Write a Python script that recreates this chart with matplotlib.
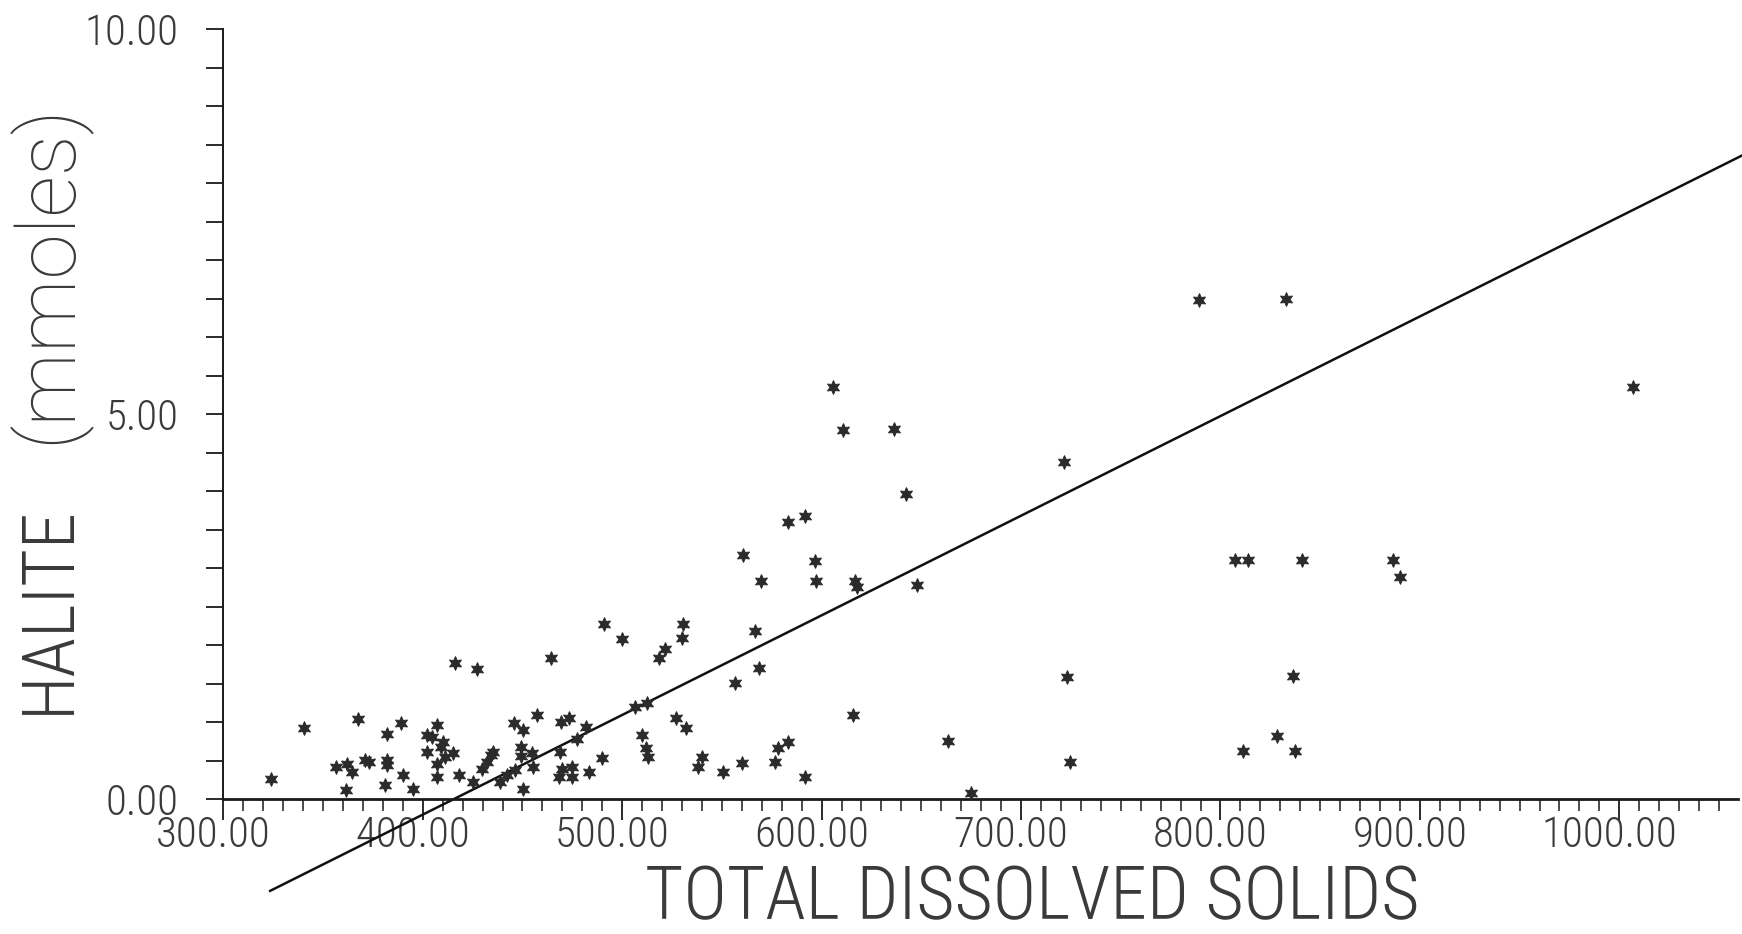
import matplotlib
matplotlib.use("Agg")
import matplotlib.pyplot as plt
import matplotlib.transforms as mtransforms
from matplotlib import font_manager
from matplotlib.ticker import MultipleLocator, FormatStrFormatter
import numpy as np

# ---------------- data ----------------
tds = [323.8, 340.5, 356.5, 361.4, 362.2, 364.4, 367.4, 371.0, 373.3, 381.1,
       381.9, 381.9, 382.2, 389.1, 390.0, 395.0, 402.3, 402.3, 404.5, 407.0,
       407.0, 407.0, 409.0, 410.0, 411.2, 415.0, 416.4, 418.0, 425.4, 427.1,
       429.6, 432.1, 434.1, 435.4, 438.7, 442.1, 445.8, 446.3, 449.1, 449.1,
       450.1, 450.4, 454.6, 455.5, 457.1, 464.5, 468.8, 468.3, 469.8, 474.7,
       475.0, 469.3, 473.5, 477.5, 481.9, 483.5, 489.8, 490.7, 499.9, 506.2,
       512.7, 509.8, 512.0, 513.1, 518.6, 521.5, 526.8, 529.9, 530.7, 531.9,
       538.2, 539.9, 550.7, 556.6, 560.0, 560.7, 566.6, 568.8, 569.5, 576.6,
       578.3, 583.3, 583.4, 591.5, 591.7, 596.7, 597.2, 605.6, 610.9, 615.6,
       616.8, 617.6, 636.4, 642.2, 647.8, 663.6, 675.0, 721.5, 723.3, 724.6,
       789.1, 807.5, 811.3, 813.6, 828.2, 833.1, 837.5, 841.0, 836.5, 886.6,
       890.0, 1007.0]
halite = [0.26, 0.92, 0.42, 0.12, 0.46, 0.35, 1.04, 0.51, 0.48, 0.19,
          0.51, 0.45, 0.85, 0.99, 0.32, 0.13, 0.84, 0.62, 0.81, 0.97,
          0.46, 0.29, 0.68, 0.75, 0.55, 0.60, 1.77, 0.32, 0.23, 1.69,
          0.40, 0.48, 0.58, 0.62, 0.23, 0.32, 0.99, 0.38, 0.68, 0.56,
          0.13, 0.90, 0.60, 0.42, 1.10, 1.84, 0.62, 0.29, 0.39, 0.42,
          0.29, 1.00, 1.05, 0.78, 0.94, 0.35, 0.53, 2.28, 2.08, 1.20,
          1.25, 0.84, 0.66, 0.55, 1.83, 1.95, 1.05, 2.09, 2.28, 0.93,
          0.42, 0.55, 0.35, 1.51, 0.47, 3.17, 2.19, 1.70, 2.84, 0.49,
          0.66, 0.75, 3.60, 0.29, 3.68, 3.09, 2.84, 5.36, 4.80, 1.09,
          2.84, 2.76, 4.81, 3.97, 2.78, 0.76, 0.08, 4.38, 1.59, 0.49,
          6.48, 3.11, 0.63, 3.11, 0.82, 6.50, 0.63, 3.11, 1.60, 3.11,
          2.89, 5.36]

fit_slope = 0.01294
fit_intercept = -5.375
fit_tds_range = [323.5, 1066.0]

x_ticks = [300, 400, 500, 600, 700, 800, 900, 1000]
y_ticks = [0, 5, 10]
x_label = "TOTAL DISSOLVED SOLIDS"
y_label_main = "HALITE"
y_label_unit = "(mmoles)"

# ---------------- fonts ----------------
names = {f.name for f in font_manager.fontManager.ttflist}
NARROW = "DejaVu Sans"
for cand in ["Liberation Sans Narrow", "Roboto Condensed", "DejaVu Sans Condensed",
             "Open Sans Condensed", "Liberation Sans"]:
    if cand in names:
        NARROW = cand
        break
REGULAR = "Roboto" if "Roboto" in names else "DejaVu Sans"
WT = "light"

TXT = "#3a3a3a"
W, H = 1742, 934
fig = plt.figure(figsize=(W / 100, H / 100), dpi=100)
fig.patch.set_facecolor("white")

x0, x1 = 223.3, 1738.3
ytop, ybot = 29.3, 799.3
ax = fig.add_axes([x0 / W, 1 - ybot / H, (x1 - x0) / W, (ybot - ytop) / H])
xmin = 300
xmax = 300 + (x1 - x0) / 1.9943
ax.set_xlim(xmin, xmax)
ax.set_ylim(0, 10)

for s in ["top", "right"]:
    ax.spines[s].set_visible(False)
ax.spines["left"].set_linewidth(1.4)
ax.spines["bottom"].set_linewidth(2.0)
ax.spines["left"].set_color("#1a1a1a")
ax.spines["bottom"].set_color("#1a1a1a")

ax.xaxis.set_major_locator(plt.FixedLocator(x_ticks))
ax.xaxis.set_minor_locator(MultipleLocator(10))
ax.yaxis.set_major_locator(plt.FixedLocator(y_ticks))
ax.yaxis.set_minor_locator(MultipleLocator(0.5))
ax.xaxis.set_major_formatter(FormatStrFormatter("%.2f"))
ax.yaxis.set_major_formatter(FormatStrFormatter("%.2f"))

ax.tick_params(axis="x", which="major", direction="out", length=15, width=1.3,
               color="#1a1a1a", pad=-4, labelsize=31, labelcolor=TXT)
ax.tick_params(axis="x", which="minor", direction="out", length=8.5, width=1.1,
               color="#1a1a1a")
ax.tick_params(axis="y", which="both", direction="out", length=12, width=1.3,
               color="#1a1a1a")
ax.tick_params(axis="y", which="major", pad=20, labelsize=31, labelcolor=TXT)

for lab in ax.get_xticklabels() + ax.get_yticklabels():
    lab.set_fontfamily(NARROW)
    lab.set_fontweight(WT)
off = mtransforms.ScaledTranslation(-10 / 100, 0, fig.dpi_scale_trans)
for lab in ax.get_xticklabels():
    lab.set_transform(lab.get_transform() + off)

# scatter points
ax.plot(tds, halite, linestyle="none", marker=(6, 1, 0), markersize=10,
        color="#2b2b2b", markeredgecolor="#2b2b2b", markeredgewidth=0.7,
        clip_on=False, zorder=3)

# regression line
fx = np.array(fit_tds_range)
fy = fit_slope * fx + fit_intercept
ax.plot(fx, fy, color="#111111", linewidth=1.8, clip_on=False, zorder=2)

# axis labels
fig.text(1032 / W, 1 - 919 / H, x_label, ha="center", va="baseline",
         fontsize=53, family=NARROW, fontweight=WT, color=TXT)
fig.text(69 / W, 1 - 610 / H, y_label_main, rotation=90, ha="center",
         va="baseline", fontsize=52, family=NARROW, fontweight=WT, color=TXT,
         rotation_mode="anchor")
fig.text(47 / W, 1 - 274 / H, y_label_unit, rotation=90, ha="center",
         va="center", fontsize=59, family=REGULAR, fontweight=WT, color=TXT)

fig.savefig("out.png", dpi=100, facecolor="white")
